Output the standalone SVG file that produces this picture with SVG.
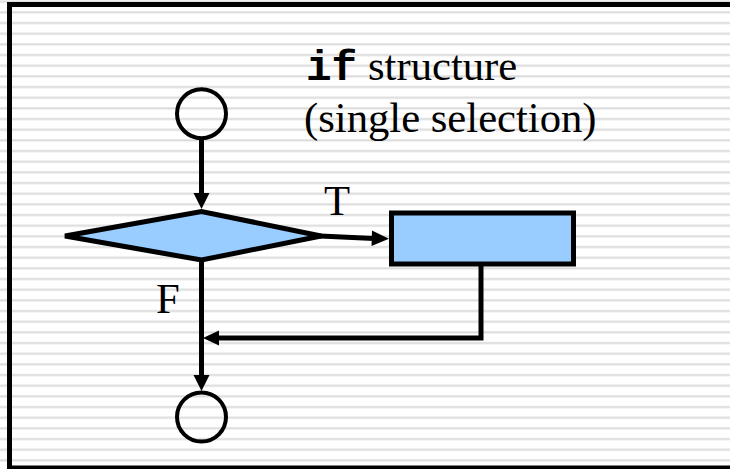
<svg xmlns="http://www.w3.org/2000/svg" width="730" height="469" viewBox="0 0 730 469">
  <defs>
    <pattern id="stripes" patternUnits="userSpaceOnUse" x="0" y="0.4" width="730" height="10.667">
      <rect x="0" y="0" width="730" height="10.667" fill="#ffffff"/>
      <rect x="0" y="0" width="730" height="2.6" fill="#ececec"/>
      <rect x="0" y="0.6" width="730" height="1.4" fill="#dcdcdc"/>
    </pattern>
    <style>
      .line { stroke: #000; stroke-width: 5; fill: none; }
      .shape { stroke: #000; stroke-width: 5; fill: #99ccff; }
      .term { stroke: #000; stroke-width: 4; fill: none; }
      .head { fill: #000; }
      .serif { font-family: "Liberation Serif", "Times New Roman", serif; font-size: 42.67px; fill: #000; }
      .mono { font-family: "Liberation Mono", "Courier New", monospace; font-weight: bold; }
    </style>
  </defs>

  <!-- striped slide background and frame -->
  <rect x="0" y="0" width="730" height="469" fill="url(#stripes)"/>
  <rect x="9.5" y="4.5" width="740" height="463.5" fill="none" stroke="#000" stroke-width="5"/>

  <!-- caption -->
  <text class="serif" x="306" y="80"><tspan class="mono">if</tspan><tspan x="368">structure</tspan></text>
  <text class="serif" x="304" y="132">(single selection)</text>

  <!-- connectors -->
  <g id="connectors">
    <line class="line" x1="201.5" y1="140" x2="201.5" y2="196"/>
    <polygon class="head" points="193.5,193 209.5,193 201.5,209"/>

    <line class="line" x1="320" y1="236" x2="374" y2="238.5"/>
    <polygon class="head" points="372,230.5 389,238.8 371.5,246"/>
    <text class="serif" x="324" y="215">T</text>

    <polyline class="line" points="481,264 481,338 216,338"/>
    <polygon class="head" points="219,330.5 203,338 219,345.5"/>

    <line class="line" x1="201.5" y1="261" x2="201.5" y2="378"/>
    <polygon class="head" points="193.5,375 209.5,375 201.5,391"/>
    <text class="serif" x="156" y="313">F</text>
  </g>

  <!-- nodes -->
  <g id="start">
    <circle class="term" cx="201.5" cy="113.7" r="24.5"/>
  </g>
  <g id="decision">
    <polygon class="shape" points="65,236 201.5,211.5 321,236 201.5,260" stroke-linejoin="miter"/>
  </g>
  <g id="action">
    <rect class="shape" x="391.5" y="213" width="182" height="51"/>
  </g>
  <g id="end">
    <circle class="term" cx="201.5" cy="417" r="24.5"/>
  </g>
</svg>
